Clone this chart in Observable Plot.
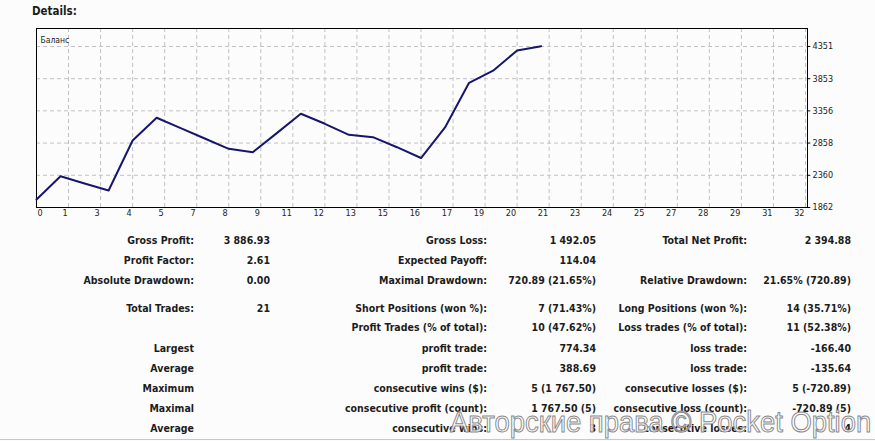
<!DOCTYPE html>
<html>
<head>
<meta charset="utf-8">
<script src="https://cdn.jsdelivr.net/npm/d3@7"></script>
<script src="https://cdn.jsdelivr.net/npm/@observablehq/plot@0.6"></script>
<style>
  html, body { margin: 0; padding: 0; background: #fdfcfd; }
  #wrap { position: relative; width: 875px; height: 441px; overflow: hidden; font-family: "DejaVu Sans Condensed", "DejaVu Sans", sans-serif; color: #1c1c1c; }
  #chart { position: absolute; left: 0; top: 0; }
  .t { position: absolute; white-space: nowrap; font-weight: bold; font-size: 10.5px; line-height: 14px; }
  #title { position: absolute; left: 32px; top: 3px; font-weight: bold; font-size: 11.5px; line-height: 16px; }
  #wm { position: absolute; left: 450px; top: 405px; font-family: "Liberation Sans", sans-serif; font-size: 29px; line-height: 34px; white-space: nowrap;
        transform: scaleX(0.945); transform-origin: 0 0;
        color: rgba(255,255,255,0.88); -webkit-text-stroke: 1px #8a8a8a; }
  #bline { position: absolute; left: 0; top: 439px; width: 875px; height: 1px; background: #c8c8c8; }
</style>
</head>
<body>
<div id="wrap">
  <div id="chart"></div>
  <div id="title">Details:</div>
</div>
<script>
// ---- chart data ----
const trades = [0,1,2,3,4,5,6,7,8,9,10,11,12,13,14,15,16,17,18,19,20,21];
const balance = [1986, 2346, 2233, 2125, 2898, 3249, 3088, 2928, 2769, 2717, 3012, 3311, 3156, 2986, 2949, 2794, 2627, 3099, 3790, 3977, 4289, 4356];
const yTicks = [1862, 2360, 2858, 3356, 3853, 4351];
const xTickPos = [0, 4/3, 8/3, 4, 16/3, 20/3, 8, 28/3, 32/3, 12, 40/3, 44/3, 16, 52/3, 56/3, 20, 64/3, 68/3, 24, 76/3, 80/3, 28, 88/3, 92/3, 32];
const xTickLabels = ["0","1","3","4","5","7","8","9","11","12","13","15","16","17","19","20","21","23","24","25","27","28","29","31","32"];
const seriesName = "Баланс";

// ---- table data ----
const rowY = [240, 260, 280, 308, 327, 348, 368, 388, 408, 428];
const col1Labels = ["Gross Profit:", "Profit Factor:", "Absolute Drawdown:", "Total Trades:", "", "Largest", "Average", "Maximum", "Maximal", "Average"];
const col1Values = ["3 886.93", "2.61", "0.00", "21", "", "", "", "", "", ""];
const col2Labels = ["Gross Loss:", "Expected Payoff:", "Maximal Drawdown:", "Short Positions (won %):", "Profit Trades (% of total):", "profit trade:", "profit trade:", "consecutive wins ($):", "consecutive profit (count):", "consecutive wins:"];
const col2Values = ["1 492.05", "114.04", "720.89 (21.65%)", "7 (71.43%)", "10 (47.62%)", "774.34", "388.69", "5 (1 767.50)", "1 767.50 (5)", "3"];
const col3Labels = ["Total Net Profit:", "", "Relative Drawdown:", "Long Positions (won %):", "Loss trades (% of total):", "loss trade:", "loss trade:", "consecutive losses ($):", "consecutive loss (count):", "consecutive losses:"];
const col3Values = ["2 394.88", "", "21.65% (720.89)", "14 (35.71%)", "11 (52.38%)", "-166.40", "-135.64", "5 (-720.89)", "-720.89 (5)", "4"];
const colRight = [194, 270, 487, 596, 747, 851];
const watermark = "Авторские права © Pocket Option";

const data = trades.map((t, i) => ({t, b: balance[i]}));
const xt = xTickPos.map((p, i) => ({p, label: xTickLabels[i]}));

const fontTick = "DejaVu Sans Condensed, DejaVu Sans, sans-serif";
const plot = Plot.plot({
  width: 875,
  height: 222,
  marginLeft: 36,
  marginRight: 70,
  marginTop: 28,
  marginBottom: 15,
  style: {background: "transparent", fontFamily: fontTick, fontSize: "9px", color: "#1c1c1c"},
  x: {domain: [0, 32], axis: null},
  y: {domain: [1862, 4629], axis: null},
  marks: [
    Plot.ruleX(xt.slice(1), {x: "p", stroke: "#c4c0c4", strokeDasharray: "4,3", strokeWidth: 1}),
    Plot.ruleY(yTicks.slice(1), {y: d => d, x1: 0, x2: 32.08, stroke: "#c4c0c4", strokeDasharray: "4,3", strokeWidth: 1}),
    Plot.frame({stroke: "#000", strokeWidth: 1, insetRight: -2}),
    Plot.line(data, {x: "t", y: "b", stroke: "#16166c", strokeWidth: 2, strokeLinejoin: "round"}),
    Plot.ruleY(yTicks, {y: d => d, x1: 32.12, x2: 32.22, stroke: "#000", strokeWidth: 1}),
    Plot.text(yTicks, {y: d => d, frameAnchor: "right", text: d => String(d), textAnchor: "start", dx: 7, fill: "#1c1c1c"}),
    Plot.text(xt.slice(0, 1), {x: "p", frameAnchor: "bottom", text: "label", textAnchor: "start", dx: 1, dy: 8, fill: "#1c1c1c"}),
    Plot.text(xt.slice(1), {x: "p", frameAnchor: "bottom", text: "label", textAnchor: "end", dx: -1, dy: 8, fill: "#1c1c1c"}),
    Plot.text([seriesName], {frameAnchor: "top-left", text: d => d, textAnchor: "start", dx: 4, dy: 8, fill: "#1c1c1c", fontSize: 8.5})
  ]
});
document.getElementById("chart").appendChild(plot);

const wrap = document.getElementById("wrap");
const cols = [col1Labels, col1Values, col2Labels, col2Values, col3Labels, col3Values];
cols.forEach((col, c) => {
  col.forEach((txt, r) => {
    if (!txt) return;
    const d = document.createElement("div");
    d.className = "t";
    d.textContent = txt;
    d.style.right = (875 - colRight[c]) + "px";
    d.style.top = (rowY[r] - 7) + "px";
    wrap.appendChild(d);
  });
});
const wm = document.createElement("div");
wm.id = "wm";
wm.textContent = watermark;
wrap.appendChild(wm);
const bl = document.createElement("div");
bl.id = "bline";
wrap.appendChild(bl);
</script>
</body>
</html>
